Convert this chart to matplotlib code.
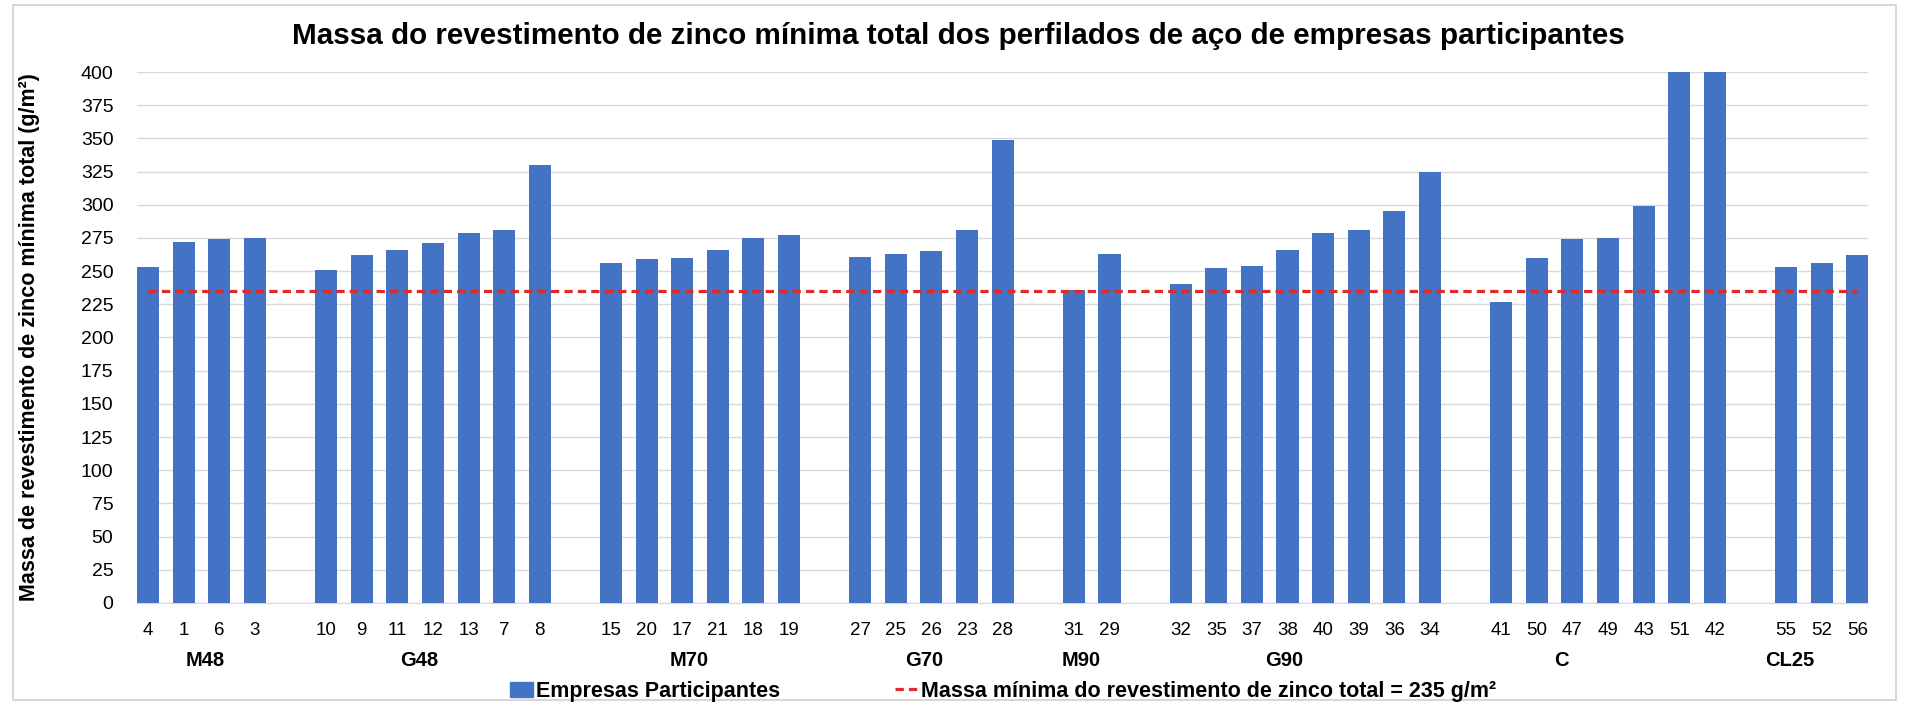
import matplotlib.pyplot as plt
from matplotlib.patches import Rectangle
from matplotlib.lines import Line2D
from matplotlib.patches import Patch

plt.rcParams['font.family'] = ['Liberation Sans', 'DejaVu Sans']

# groups (outer category) and participant ids (inner category)
groups = ['M48', 'G48', 'M70', 'G70', 'M90', 'G90', 'C', 'CL25']
ids = [
    ['4', '1', '6', '3'],
    ['10', '9', '11', '12', '13', '7', '8'],
    ['15', '20', '17', '21', '18', '19'],
    ['27', '25', '26', '23', '28'],
    ['31', '29'],
    ['32', '35', '37', '38', '40', '39', '36', '34'],
    ['41', '50', '47', '49', '43', '51', '42'],
    ['55', '52', '56'],
]
massa = [
    [253, 272, 274, 275],
    [251, 262, 266, 271, 279, 281, 330],
    [256, 259, 260, 266, 275, 277],
    [261, 263, 265, 281, 349],
    [236, 263],
    [240, 252, 254, 266, 279, 281, 295, 325],
    [227, 260, 274, 275, 299, 400, 400],
    [253, 256, 262],
]
limite = 235

# small nudges for the outer labels (as placed in the original)
label_nudge = [0.1, -0.4, -0.3, -0.2, -0.3, -0.6, -1.3, -0.9]

blue = '#4472C4'
red = '#E02A2A'

fig = plt.figure(figsize=(19.06, 7.04), dpi=100)
ax = fig.add_axes([0.0719, 0.1435, 0.9083, 0.7542])

xpos = []
ticks = []
labels = []
centers = []
x = 0
for g, (names, vals) in enumerate(zip(ids, massa)):
    start = x
    for n, v in zip(names, vals):
        xpos.append(x)
        ticks.append(x)
        labels.append(n)
        x += 1
    centers.append((start + x - 1) / 2 + label_nudge[g])
    x += 1  # empty slot between groups

allvals = [v for vals in massa for v in vals]
w = 0.62
ax.bar(xpos, allvals, width=w, color=blue, zorder=3)
ax.plot([xpos[0], xpos[-1]], [limite, limite], color=red, lw=2.3,
        dashes=(2.6, 1.6), zorder=4)

ax.set_xlim(-w / 2, xpos[-1] + w / 2)
ax.set_ylim(0, 400)
ax.set_yticks(range(0, 401, 25))
ax.yaxis.grid(True, color='#D9D9D9', lw=1)
ax.set_axisbelow(True)
ax.set_xticks(ticks)
ax.set_xticklabels(labels)
ax.tick_params(axis='both', length=0)
ax.tick_params(axis='y', pad=17, labelsize=14)
ax.tick_params(axis='x', pad=14, labelsize=13.5)
for s in ['top', 'right', 'left']:
    ax.spines[s].set_visible(False)
ax.spines['bottom'].set_color('#D9D9D9')

for c, g in zip(centers, groups):
    ax.text(c, -0.109, g, transform=ax.get_xaxis_transform(), ha='center', va='center',
            fontsize=14.5, fontweight='bold')

ax.set_ylabel('Massa de revestimento de zinco mínima total (g/m²)', fontsize=15.5,
              fontweight='bold')
ax.yaxis.set_label_coords(-0.056, 0.5)

fig.suptitle('Massa do revestimento de zinco mínima total dos perfilados de aço de empresas participantes',
             fontsize=21.3, fontweight='bold', x=0.503, y=0.949, va='center')

handles = [Patch(color=blue, label='Empresas Participantes'),
           Line2D([0], [0], color=red, lw=2.3, dashes=(2.6, 1.6),
                  label='Massa mínima do revestimento de zinco total = 235 g/m²')]
fig.legend(handles=handles, loc='center left', bbox_to_anchor=(0.2676, 0.018), ncol=2,
           frameon=False, prop={'size': 15.5, 'weight': 'bold'}, columnspacing=5.3,
           handlelength=1.07, handletextpad=0.15, borderpad=0, borderaxespad=0)

fig.patches.append(Rectangle((0.007, 0.005), 0.988, 0.988, transform=fig.transFigure,
                             fill=False, edgecolor='#D0D0D0', lw=1.2))

fig.savefig('out.png', dpi=100)
